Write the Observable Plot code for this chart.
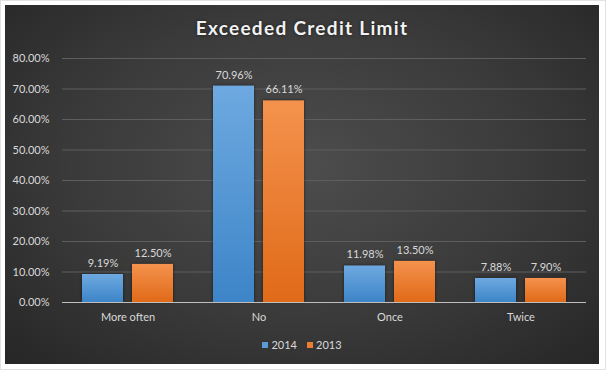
<!DOCTYPE html>
<html>
<head>
<meta charset="utf-8">
<script src="https://cdn.jsdelivr.net/npm/d3@7"></script>
<script src="https://cdn.jsdelivr.net/npm/@observablehq/plot@0.6"></script>
<style>
  html, body { margin: 0; padding: 0; background: #fff; }
  #frame { position: relative; width: 606px; height: 370px; box-sizing: border-box; border: 1px solid #e2e2e2; overflow: hidden; }
  #chart { position: absolute; left: 4px; top: 4px; width: 594px; height: 359px;
    background: radial-gradient(ellipse at 50% 45%, #4d4d4d 0%, #3a3a3a 55%, #262626 100%);
    font-family: Lato, "Open Sans", sans-serif; color: #d9d9d9; }
  #title { position: absolute; left: 0; width: 100%; top: 11px; text-align: center; font-size: 19px; font-weight: bold;
    letter-spacing: 1.3px; color: #f2f2f2; text-shadow: 0 0 3px rgba(0,0,0,0.6); }
  #plot { position: absolute; left: 0; top: 40px; }
  #legend { position: absolute; left: 0; width: 100%; top: 333px; display: flex; justify-content: center; gap: 10px; font-size: 11px; }
  #legend span.sw { display: inline-block; width: 6px; height: 6px; margin-right: 3px; vertical-align: 1px; }
</style>
</head>
<body>
<div id="frame"><div id="chart">
  <div id="title">Exceeded Credit Limit</div>
  <div id="plot"></div>
  <div id="legend"></div>
</div></div>
<script>
const categories = ["More often", "No", "Once", "Twice"];
const years = ["2014", "2013"];
const values2014 = [9.19, 70.96, 11.98, 7.88];
const values2013 = [12.50, 66.11, 13.50, 7.90];
const yTicks = [0, 10, 20, 30, 40, 50, 60, 70, 80];
const seriesColors = { "2014": "#5b9bd5", "2013": "#ed7d31" };

const data = [];
categories.forEach((c, i) => {
  data.push({ cat: c, year: "2014", value: values2014[i] });
  data.push({ cat: c, year: "2013", value: values2013[i] });
});

const fmt = v => v.toFixed(2) + "%";

const chart = Plot.plot({
  width: 594,
  height: 290,
  marginTop: 13,
  marginBottom: 33,
  marginLeft: 55,
  marginRight: 12,
  style: { background: "transparent", color: "#d9d9d9", fontFamily: "Lato, 'Open Sans', sans-serif", fontSize: "11px" },
  fx: { domain: categories, padding: 0, label: null, axis: "bottom", tickSize: 0, tickPadding: 11 },
  x: { domain: years, paddingInner: 0.19, paddingOuter: 0.38, axis: null },
  y: { domain: [0, 80], ticks: yTicks, tickFormat: fmt, label: null, tickSize: 0, tickPadding: 13 },
  color: { type: "ordinal", domain: years, range: ["url(#g2014)", "url(#g2013)"] },
  marks: [
    Plot.ruleY(yTicks.filter(d => d > 0), { stroke: "#5e5e5e", strokeWidth: 1 }),
    Plot.barY(data, { fx: "cat", x: "year", y: "value", fill: "year" }),
    Plot.text(data, { fx: "cat", x: "year", y: "value", text: d => fmt(d.value), dy: -11, fill: "#d9d9d9", fontSize: 11 }),
    Plot.ruleY([0], { stroke: "#bfbfbf", strokeWidth: 1.2 })
  ]
});

// gradients for bars
const svg = d3.select(chart);
const defs = svg.insert("defs", ":first-child");
const grads = [
  ["g2014", "#6ea9e0", "#3d85c8"],
  ["g2013", "#f4924d", "#e06a18"]
];
grads.forEach(([id, top, bottom]) => {
  const g = defs.append("linearGradient").attr("id", id).attr("x1", 0).attr("y1", 0).attr("x2", 0).attr("y2", 1);
  g.append("stop").attr("offset", "0%").attr("stop-color", top);
  g.append("stop").attr("offset", "100%").attr("stop-color", bottom);
});
svg.selectAll("rect").style("filter", "drop-shadow(0px 0px 1.5px rgba(0,0,0,0.55))");

document.getElementById("plot").appendChild(chart);

const legend = document.getElementById("legend");
years.forEach(y => {
  const item = document.createElement("div");
  item.innerHTML = `<span class="sw" style="background:${seriesColors[y]}"></span>${y}`;
  legend.appendChild(item);
});
</script>
</body>
</html>
